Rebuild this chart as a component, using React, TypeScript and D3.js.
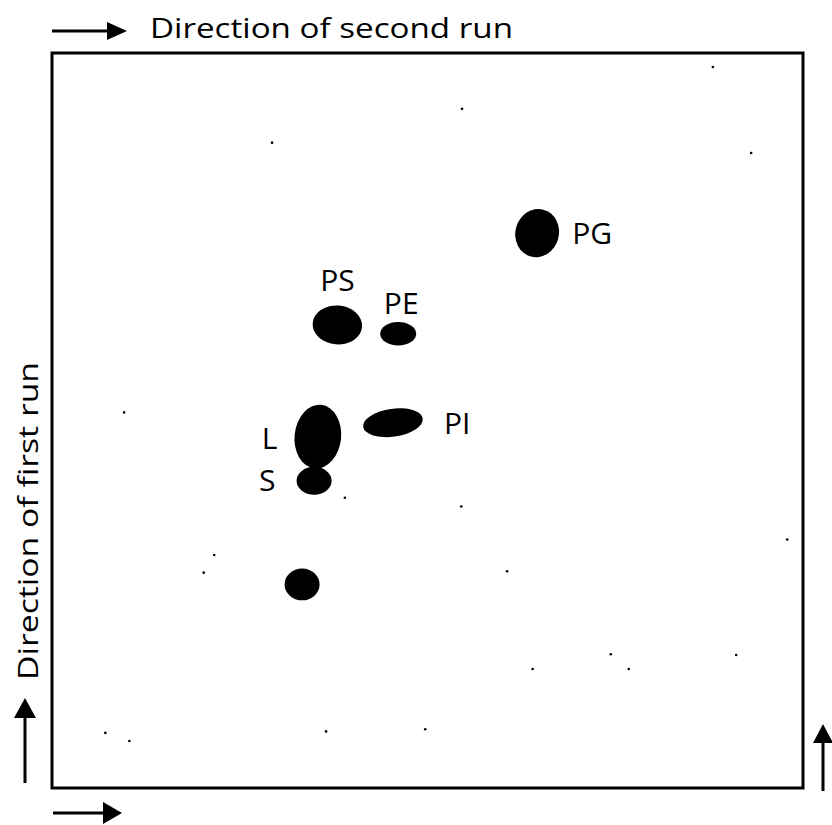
import * as d3 from 'd3';

// Spot data in Rf units (x = second run, y = first run), extents are half-widths in Rf units
const SPOT_NAMES = ['PG', 'PS', 'PE', 'PI', 'L', 'S', ''];
const SPOT_RF_X = [0.646, 0.38, 0.461, 0.454, 0.354, 0.349, 0.333];
const SPOT_RF_Y = [0.755, 0.63, 0.618, 0.497, 0.478, 0.418, 0.277];
const SPOT_HALF_W = [0.029, 0.033, 0.024, 0.04, 0.031, 0.0233, 0.0233];
const SPOT_HALF_H = [0.033, 0.0265, 0.016, 0.019, 0.0435, 0.019, 0.0217];
const SPOT_TILT = [15, 5, 0, -8, 6, 0, 0];

// stray specks on the plate
const SPECK_X = [0.88, 0.546, 0.293, 0.931, 0.096, 0.39, 0.545, 0.216, 0.202, 0.606, 0.979, 0.744, 0.768, 0.64, 0.911, 0.071, 0.103, 0.365, 0.497];
const SPECK_Y = [0.981, 0.924, 0.878, 0.864, 0.511, 0.395, 0.383, 0.317, 0.293, 0.295, 0.338, 0.182, 0.162, 0.162, 0.181, 0.075, 0.064, 0.077, 0.08];

const TITLE_TOP = 'Direction of second run';
const TITLE_LEFT = 'Direction of first run';

// label placement relative to spot centre (px)
const LABEL_POS: Record<string, { dx: number; dy: number; anchor: string }> = {
  PG: { dx: 35, dy: 11, anchor: 'start' },
  PS: { dx: 0, dy: -34, anchor: 'middle' },
  PE: { dx: 3, dy: -20, anchor: 'middle' },
  PI: { dx: 51, dy: 11, anchor: 'start' },
  L: { dx: -56, dy: 12, anchor: 'start' },
  S: { dx: -55, dy: 10, anchor: 'start' },
};

const FONT = '"Open Sans", "DejaVu Sans", sans-serif';

export default function App() {
  const W = 832;
  const H = 825;
  const box = { left: 52, right: 803, top: 53, bottom: 788 };

  const x = d3.scaleLinear().domain([0, 1]).range([box.left, box.right]);
  const y = d3.scaleLinear().domain([0, 1]).range([box.bottom, box.top]);
  const sx = (v: number) => x(v) - x(0);
  const sy = (v: number) => y(0) - y(v);

  const spots = SPOT_NAMES.map((name, i) => ({
    name,
    cx: x(SPOT_RF_X[i]),
    cy: y(SPOT_RF_Y[i]),
    rx: sx(SPOT_HALF_W[i]),
    ry: sy(SPOT_HALF_H[i]),
    tilt: SPOT_TILT[i],
  }));

  return (
    <svg
      width={W}
      height={H}
      style={{ position: 'absolute', left: 0, top: 0, background: '#fff' }}
    >
      {/* top arrow + title */}
      <line x1={52} x2={110} y1={31} y2={31} stroke="#000" strokeWidth={3} />
      <path d="M107,22 L127,31 L107,40 Z" fill="#000" />
      <text
        x={150} y={38} fontFamily={FONT} fontSize={28}
        textLength={363} lengthAdjust="spacingAndGlyphs" fill="#000"
      >
        {TITLE_TOP}
      </text>

      {/* left title, rotated */}
      <text
        transform={`translate(38,${(362 + 680) / 2}) rotate(-90)`}
        textAnchor="middle" fontFamily={FONT} fontSize={28}
        textLength={318} lengthAdjust="spacingAndGlyphs" fill="#000"
      >
        {TITLE_LEFT}
      </text>

      {/* left up arrow */}
      <line x1={25} x2={25} y1={783} y2={716} stroke="#000" strokeWidth={3} />
      <path d="M14,718 L25,698 L36,718 Z" fill="#000" />

      {/* bottom right-pointing arrow */}
      <line x1={53} x2={106} y1={813} y2={813} stroke="#000" strokeWidth={3} />
      <path d="M103,802 L122,813 L103,824 Z" fill="#000" />

      {/* right up arrow */}
      <line x1={823} x2={823} y1={791} y2={740} stroke="#000" strokeWidth={3} />
      <path d="M813,743 L823,724 L833,743 Z" fill="#000" />

      {/* plate outline */}
      <rect
        x={box.left} y={box.top}
        width={box.right - box.left} height={box.bottom - box.top}
        fill="none" stroke="#000" strokeWidth={3}
      />

      {/* specks */}
      {SPECK_X.map((v, i) => (
        <circle key={`sp-${i}`} cx={x(v)} cy={y(SPECK_Y[i])} r={1.3} fill="#000" />
      ))}

      {/* spots */}
      {spots.map(s => (
        <ellipse
          key={`spot-${s.name || 'origin'}`}
          cx={s.cx} cy={s.cy} rx={s.rx} ry={s.ry}
          transform={`rotate(${s.tilt},${s.cx},${s.cy})`}
          fill="#000"
        />
      ))}

      {/* labels */}
      {spots.filter(s => s.name).map(s => {
        const p = LABEL_POS[s.name];
        return (
          <text
            key={`lab-${s.name}`}
            x={s.cx + p.dx} y={s.cy + p.dy}
            textAnchor={p.anchor}
            fontFamily={FONT} fontSize={30} fill="#000"
          >
            {s.name}
          </text>
        );
      })}
    </svg>
  );
}
